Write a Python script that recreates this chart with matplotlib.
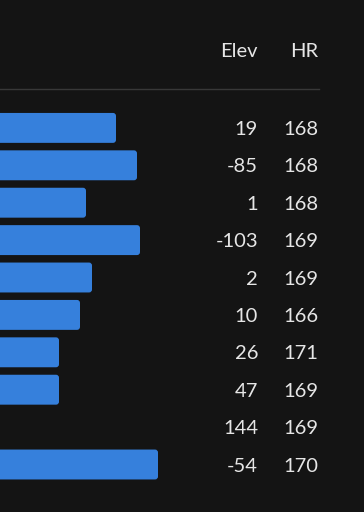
import matplotlib
matplotlib.use("Agg")
import matplotlib.pyplot as plt
from matplotlib.patches import FancyBboxPatch

# per-row values
bar_len = [116, 137, 86, 140, 92, 80, 59, 59, 0, 158]
elev = [19, -85, 1, -103, 2, 10, 26, 47, 144, -54]
hr = [168, 168, 168, 169, 169, 166, 171, 169, 169, 170]
headers = ["Elev", "HR"]

BG = "#141414"
BAR = "#3680dc"
TXT = "#e6e6e6"
RULE = "#383838"

plt.rcParams["font.family"] = ["Lato", "DejaVu Sans"]

fig = plt.figure(figsize=(3.64, 5.12), dpi=100, facecolor=BG)
ax = fig.add_axes([0, 0, 1, 1])
ax.set_facecolor(BG)
ax.set_xlim(0, 364)
ax.set_ylim(10.27, -3.42)
ax.axis("off")

row_px = 37.4  # pixels per row, keeps corner rounding circular
h = 0.8
for i, v in enumerate(bar_len):
    if v <= 0:
        continue
    ax.add_patch(FancyBboxPatch(
        (-10, i - h / 2), v + 10, h,
        boxstyle="round,pad=0,rounding_size=3",
        mutation_aspect=1 / row_px,
        facecolor=BAR, edgecolor="none"))

col_x = [258, 318]
fs = 14.5
for i, (e, r) in enumerate(zip(elev, hr)):
    ax.text(col_x[0], i, str(e), ha="right", va="center_baseline",
            color=TXT, fontsize=fs)
    ax.text(col_x[1], i, str(r), ha="right", va="center_baseline",
            color=TXT, fontsize=fs)

for x, name in zip(col_x, headers):
    ax.text(x, -2.09, name, ha="right", va="center_baseline",
            color=TXT, fontsize=fs)

ax.plot([0, 319], [-1.03, -1.03], color=RULE, lw=1)

fig.savefig("out.png", dpi=100, facecolor=BG)
